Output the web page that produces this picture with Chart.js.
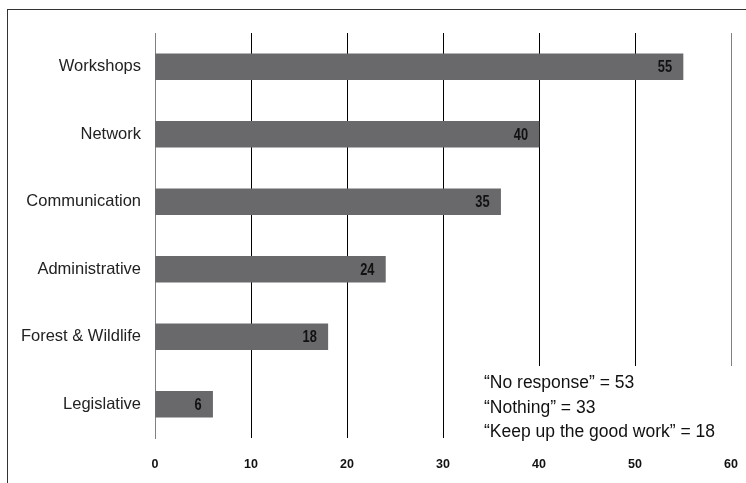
<!DOCTYPE html>
<html>
<head>
<meta charset="utf-8">
<script src="https://cdn.jsdelivr.net/npm/chart.js@4.4.1/dist/chart.umd.min.js"></script>
<style>
  html, body { margin: 0; padding: 0; background: #fff; }
  #wrap { position: relative; width: 746px; height: 483px; overflow: hidden; }
  #frame { position: absolute; left: 7px; top: 9px; width: 760px; height: 500px;
           border-top: 1px solid #333; border-left: 1px solid #333; }
  #c { position: absolute; left: 0; top: 0; }
</style>
</head>
<body>
<div id="wrap">
  <div id="frame"></div>
  <canvas id="c" width="746" height="483"></canvas>
</div>
<script>
const categories = ['Workshops', 'Network', 'Communication', 'Administrative', 'Forest & Wildlife', 'Legislative'];
const values = [55, 40, 36, 24, 18, 6];
const valueLabels = ['55', '40', '35', '24', '18', '6'];
const xTicks = [0, 10, 20, 30, 40, 50, 60];
const notes = ['\u201CNo response\u201D = 53', '\u201CNothing\u201D = 33', '\u201CKeep up the good work\u201D = 18'];

const sans = "'Liberation Sans', Arial, sans-serif";

const valueLabelPlugin = {
  id: 'valueLabels',
  afterDatasetsDraw(chart) {
    const ctx = chart.ctx;
    const meta = chart.getDatasetMeta(0);
    ctx.save();
    ctx.font = "bold 16px " + sans;
    ctx.fillStyle = '#111';
    ctx.textAlign = 'right';
    ctx.textBaseline = 'middle';
    meta.data.forEach((bar, i) => {
      ctx.save();
      ctx.translate(bar.x - 11, bar.y + 1);
      ctx.scale(0.8, 1);
      ctx.fillText(valueLabels[i], 0, 0);
      ctx.restore();
    });
    ctx.restore();
  }
};

const notesPlugin = {
  id: 'notes',
  afterDraw(chart) {
    const ctx = chart.ctx;
    ctx.save();
    ctx.fillStyle = '#fff';
    ctx.fillRect(470, 366, 276, chart.chartArea.bottom - 366 + 2);
    ctx.font = "17.5px " + sans;
    ctx.fillStyle = '#111';
    ctx.textAlign = 'left';
    ctx.textBaseline = 'middle';
    const ys = [383, 408, 432];
    notes.forEach((t, i) => ctx.fillText(t, 484, ys[i]));
    ctx.restore();
  }
};

new Chart(document.getElementById('c'), {
  type: 'bar',
  data: {
    labels: categories,
    datasets: [{
      data: values,
      backgroundColor: '#69696c',
      borderWidth: 0,
      barThickness: 26
    }]
  },
  options: {
    indexAxis: 'y',
    responsive: false,
    animation: false,
    devicePixelRatio: 1,
    layout: { padding: { left: 0, right: 0, top: 33, bottom: 0 } },
    plugins: { legend: { display: false }, tooltip: { enabled: false } },
    scales: {
      x: {
        min: 0, max: 60,
        afterBuildTicks: (scale) => { scale.ticks = xTicks.map(v => ({ value: v })); },
        afterFit: (scale) => { scale.height = 45; scale.paddingRight = 15; scale.paddingLeft = 0; },
        grid: {
          drawTicks: false,
          color: (ctx) => (ctx.tick && (ctx.tick.value === 0 || ctx.tick.value === 60)) ? '#808080' : '#000',
          lineWidth: 1
        },
        border: { display: false },
        ticks: {
          padding: 19,
          color: '#111',
          font: { family: sans, size: 12.5, weight: 'bold' }
        }
      },
      y: {
        offset: true,
        afterFit: (scale) => { scale.width = 155; },
        grid: { display: false, drawTicks: false },
        border: { display: true, color: '#808080', width: 1 },
        ticks: {
          padding: 14,
          color: '#222',
          font: { family: sans, size: 16.5 }
        }
      }
    }
  },
  plugins: [valueLabelPlugin, notesPlugin]
});
</script>
</body>
</html>
